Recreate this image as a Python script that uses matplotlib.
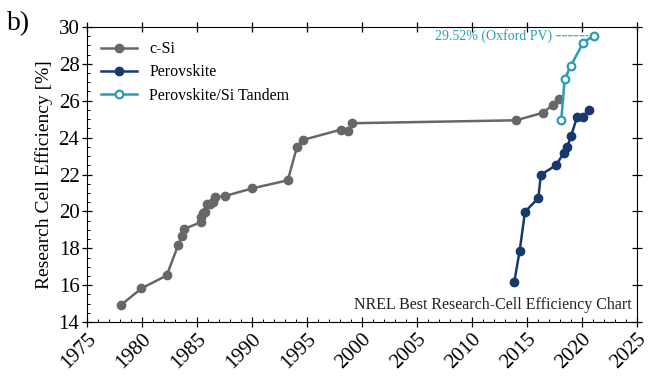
import matplotlib
matplotlib.use('Agg')
import matplotlib.pyplot as plt
from matplotlib.ticker import MultipleLocator

plt.rcParams['font.family'] = ['Liberation Serif', 'DejaVu Serif']

# c-Si record cells
si_year = [1978.06, 1979.94, 1982.24, 1983.27, 1983.64, 1983.85, 1985.33, 1985.33,
           1985.57, 1985.76, 1985.9, 1986.2, 1986.45, 1986.6, 1987.5, 1990.03,
           1993.25, 1994.09, 1994.6, 1998.06, 1998.7, 1999.1, 2014.03, 2016.45,
           2017.34, 2017.94]
si_eff = [14.92, 15.83, 16.53, 18.16, 18.65, 19.06, 19.41, 19.71,
          19.90, 19.98, 20.40, 20.42, 20.53, 20.76, 20.83, 21.25,
          21.69, 23.51, 23.87, 24.43, 24.36, 24.78, 24.94, 25.35,
          25.77, 26.11]

# perovskite
pk_year = [2013.85, 2014.34, 2014.82, 2016.03, 2016.27, 2017.64, 2018.36, 2018.66,
           2019.03, 2019.55, 2020.06, 2020.64]
pk_eff = [16.19, 17.87, 19.98, 20.72, 21.99, 22.50, 23.18, 23.49,
          24.11, 25.12, 25.12, 25.50]

# perovskite/Si tandem
tn_year = [2018.12, 2018.43, 2018.97, 2020.12, 2021.06]
tn_eff = [24.96, 27.16, 27.87, 29.15, 29.52]

c_si = '#676767'
c_pk = '#173a6a'
c_tn = '#2a9cb3'

fig = plt.figure(figsize=(6.6, 3.79), dpi=100)
ax = fig.add_axes([0.132, 0.150, 0.833, 0.779])

ax.plot(si_year, si_eff, '-o', color=c_si, lw=1.8, ms=6, label='c-Si')
ax.plot(pk_year, pk_eff, '-o', color=c_pk, lw=1.8, ms=6, label='Perovskite')
ax.plot(tn_year, tn_eff, '-o', color=c_tn, lw=1.8, ms=5.5, mfc='white',
        mew=1.6, label='Perovskite/Si Tandem')

ax.annotate('29.52% (Oxford PV)', xy=(tn_year[-1], tn_eff[-1]),
            xytext=(2017.3, tn_eff[-1]), ha='right', va='center',
            color=c_tn, fontsize=10,
            arrowprops=dict(arrowstyle='-', linestyle='--', color=c_tn, lw=0.8,
                            shrinkA=1, shrinkB=4))

ax.text(0.99, 0.03, 'NREL Best Research-Cell Efficiency Chart',
        transform=ax.transAxes, ha='right', va='bottom', fontsize=11.5, color='#222222')

ax.set_xlim(1975, 2025)
ax.set_ylim(14, 30)
ax.xaxis.set_major_locator(MultipleLocator(5))
ax.xaxis.set_minor_locator(MultipleLocator(1))
ax.yaxis.set_major_locator(MultipleLocator(2))
ax.yaxis.set_minor_locator(MultipleLocator(0.5))
ax.tick_params(which='major', direction='inout', length=7, width=0.9,
               top=True, right=True, labelsize=15, pad=2)
ax.tick_params(which='minor', direction='in', length=2.5, width=0.7,
               top=False, right=False)
plt.setp(ax.get_xticklabels(), rotation=45, ha='right', rotation_mode='anchor')
ax.set_ylabel('Research Cell Efficiency [%]', fontsize=14, labelpad=4)

ax.legend(loc='upper left', frameon=False, fontsize=11.5, handlelength=2.2,
          borderaxespad=0.5, labelspacing=0.45)

fig.text(0.01, 0.92, 'b)', fontsize=20)

fig.savefig('out.png', dpi=100)
